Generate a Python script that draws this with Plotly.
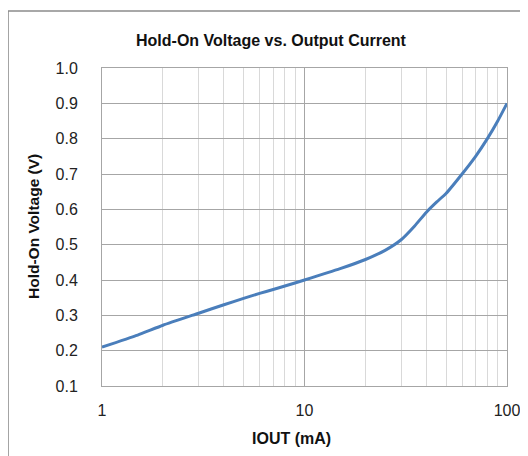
import plotly.graph_objects as go

iout_ma = [1, 1.5, 2, 3, 4, 5, 6, 7, 8, 10, 15, 20, 25, 30, 35, 40, 45, 50, 60, 70, 80, 90, 100]
hold_on_v = [0.21, 0.244, 0.272, 0.306, 0.33, 0.348, 0.362, 0.373, 0.383, 0.40, 0.432, 0.458,
             0.484, 0.514, 0.553, 0.592, 0.621, 0.645, 0.70, 0.75, 0.80, 0.85, 0.90]
x_ticks = [1, 10, 100]
x_tick_text = ["1", "10", "100"]
y_ticks = [0.1, 0.2, 0.3, 0.4, 0.5, 0.6, 0.7, 0.8, 0.9, 1.0]
y_tick_text = ["0.1", "0.2", "0.3", "0.4", "0.5", "0.6", "0.7", "0.8", "0.9", "1.0"]

fig = go.Figure()
fig.add_trace(go.Scatter(
    x=iout_ma, y=hold_on_v, mode="lines",
    line=dict(color="#4a7ebb", width=3, shape="spline", smoothing=0.5),
    showlegend=False, hoverinfo="skip",
))

reg = "Liberation Sans, Arial, sans-serif"

# page has an 8px body margin; plot area lands at x 102..507, y 68..386
fig.update_layout(
    width=528, height=456,
    margin=dict(l=94, r=29, t=60, b=78),
    paper_bgcolor="white", plot_bgcolor="white",
    xaxis=dict(
        type="log", range=[0, 2],
        tickvals=x_ticks, ticktext=x_tick_text,
        tickfont=dict(family=reg, size=16, color="#222"),
        showgrid=True, gridcolor="#a6a6a6", gridwidth=1,
        minor=dict(dtick="D1", showgrid=True, gridcolor="#d9d9d9", gridwidth=1, ticks=""),
        showline=True, linecolor="#a6a6a6", mirror=True,
        ticks="", zeroline=False, ticklabelstandoff=10,
    ),
    yaxis=dict(
        range=[0.1, 1.0],
        tickvals=y_ticks, ticktext=y_tick_text,
        tickfont=dict(family=reg, size=16, color="#222"),
        showgrid=True, gridcolor="#a6a6a6", gridwidth=1,
        showline=True, linecolor="#a6a6a6", mirror=True,
        ticks="", zeroline=False, ticklabelstandoff=20,
    ),
    shapes=[dict(type="rect", xref="paper", yref="paper",
                 x0=-0.232, x1=1.2, y0=-0.35, y1=1.179,
                 line=dict(color="#8c8c8c", width=1.5), fillcolor="rgba(0,0,0,0)",
                 layer="below")],
    annotations=[
        dict(text="<b>Hold-On Voltage vs. Output Current</b>", xref="paper", yref="paper",
             x=(271 - 102) / 405, y=1 + (68 - 40) / 318, showarrow=False,
             font=dict(family=reg, size=16, color="#111"), xanchor="center", yanchor="middle"),
        dict(text="<b>IOUT (mA)</b>", xref="paper", yref="paper",
             x=(291 - 102) / 405, y=-(438 - 386) / 318, showarrow=False,
             font=dict(family=reg, size=16, color="#111"), xanchor="center", yanchor="middle"),
        dict(text="<b>Hold-On Voltage (V)</b>", xref="paper", yref="paper",
             x=(33 - 102) / 405, y=(386 - 227) / 318, showarrow=False, textangle=-90,
             font=dict(family=reg, size=15.5, color="#111"), xanchor="center", yanchor="middle"),
    ],
)

fig.write_html("out.html")
